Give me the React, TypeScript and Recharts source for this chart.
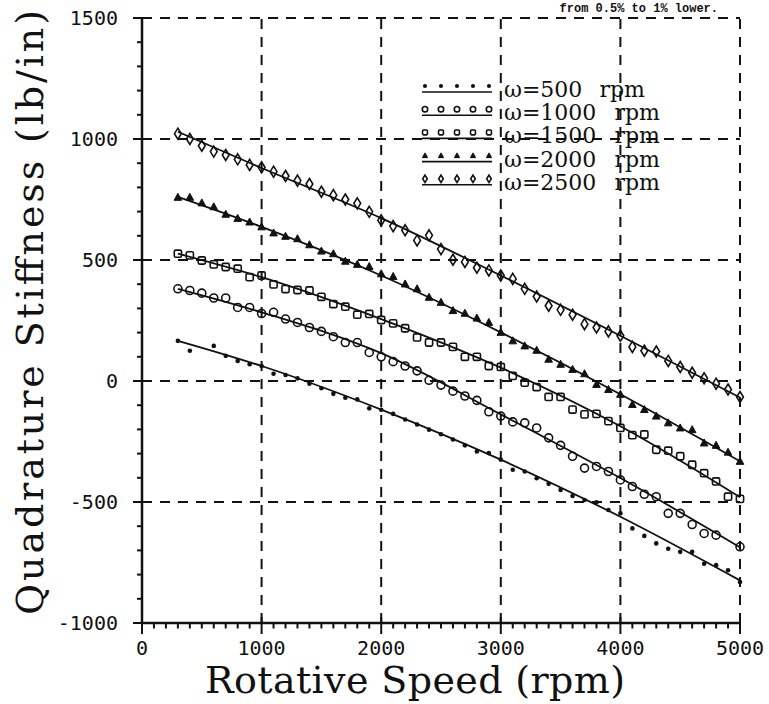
import React from 'react';
import { ComposedChart, Scatter, Line, XAxis, YAxis, ReferenceLine, Legend } from 'recharts';

// rotative speed of each measured point (rpm)
const rpm = [
  300, 400, 500, 600, 700, 800, 900, 1000, 1100, 1200, 1300, 1400, 1500, 1600, 1700, 1800,
  1900, 2000, 2100, 2200, 2300, 2400, 2500, 2600, 2700, 2800, 2900, 3000, 3100, 3200, 3300,
  3400, 3500, 3600, 3700, 3800, 3900, 4000, 4100, 4200, 4300, 4400, 4500, 4600, 4700, 4800,
  4900, 5000,
];
const rpmDots = rpm.filter((r) => r !== 500);
const rpmCircles = rpm.filter((r) => r !== 4900);

// measured quadrature stiffness (lb/in)
const w500 = [
  166, 125, 145, 104, 83, 69, 62, 30, 25, 11, -11, -30, -53, -69, -76, -113, -119, -136, -159,
  -180, -201, -220, -242, -266, -291, -298, -325, -367, -374, -402, -425, -450, -475, -492, -501,
  -533, -547, -609, -640, -671, -693, -706, -706, -755, -761, -782, -831,
];
const w1000 = [
  381, 374, 363, 343, 343, 304, 304, 279, 284, 256, 242, 221, 205, 183, 159, 159, 118, 100, 80,
  62, 42, 3, -17, -42, -62, -80, -127, -145, -169, -173, -194, -235, -266, -311, -360, -353, -374,
  -409, -436, -468, -478, -547, -547, -593, -630, -637, -685,
];
const w1500 = [
  526, 519, 498, 482, 471, 464, 429, 436, 399, 380, 376, 374, 348, 318, 307, 274, 277, 252, 238,
  218, 180, 159, 159, 141, 100, 100, 62, 58, 21, -7, -25, -66, -66, -118, -138, -136, -166, -194,
  -224, -221, -284, -288, -311, -346, -381, -415, -478, -487,
];
const w2000 = [
  759, 759, 736, 720, 689, 672, 657, 637, 612, 598, 588, 563, 537, 526, 495, 482, 473, 443, 432,
  401, 381, 346, 325, 291, 280, 260, 242, 201, 166, 145, 127, 90, 69, 48, 30, -14, -35, -55, -97,
  -118, -145, -173, -194, -201, -256, -266, -294, -332,
];
const w2500 = [
  1022, 1000, 972, 948, 934, 916, 893, 883, 865, 847, 828, 814, 782, 768, 750, 734, 699, 664, 640,
  623, 581, 602, 545, 501, 492, 468, 457, 436, 422, 381, 349, 311, 294, 274, 235, 221, 205, 187,
  141, 125, 122, 83, 58, 34, 11, -11, -35, -66,
];

// fitted curves
const fitRpm = [300, 1000, 2000, 3000, 4000, 5000];
const fit500 = [166, 62, -118, -325, -561, -824];
const fit1000 = [381, 284, 115, -138, -401, -687];
const fit1500 = [526, 429, 256, 55, -187, -480];
const fit2000 = [761, 637, 436, 201, -55, -332];
const fit2500 = [1030, 880, 673, 436, 187, -68];

const xMajor = [0, 1000, 2000, 3000, 4000, 5000];
const yMajor = [-1000, -500, 0, 500, 1000, 1500];
const xTicks = Array.from({ length: 51 }, (_, i) => i * 100);
const yTicks = Array.from({ length: 26 }, (_, i) => -1000 + i * 100);

const toPts = (xs: number[], ys: number[]) => xs.map((x, i) => ({ x, y: ys[i] }));

const series = [
  { key: 'w500', label: 'ω=500', xs: rpmDots, ys: w500, fit: fit500, kind: 'dot', gap: 17 },
  { key: 'w1000', label: 'ω=1000', xs: rpmCircles, ys: w1000, fit: fit1000, kind: 'circle', gap: 18 },
  { key: 'w1500', label: 'ω=1500', xs: rpm, ys: w1500, fit: fit1500, kind: 'square', gap: 18 },
  { key: 'w2000', label: 'ω=2000', xs: rpm, ys: w2000, fit: fit2000, kind: 'triangle', gap: 18 },
  { key: 'w2500', label: 'ω=2500', xs: rpm, ys: w2500, fit: fit2500, kind: 'diamond', gap: 18 },
];

const INK = '#111';
const MONO = "'DejaVu Sans Mono', monospace";
const SERIF = "'DejaVu Serif', serif";

const Marker = ({ kind, cx, cy, s = 1 }: { kind: string; cx: number; cy: number; s?: number }) => {
  if (cx == null || cy == null) return null;
  switch (kind) {
    case 'dot':
      return <circle cx={cx} cy={cy} r={2.3 * Math.max(s, 0.9)} fill={INK} />;
    case 'circle':
      return <circle cx={cx} cy={cy} r={4 * s} fill="none" stroke={INK} strokeWidth={1.6} />;
    case 'square':
      return (
        <rect x={cx - 3.6 * s} y={cy - 3.6 * s} width={7.2 * s} height={7.2 * s} rx={1.5 * s}
          fill="none" stroke={INK} strokeWidth={1.6} />
      );
    case 'triangle':
      return (
        <path d={`M${cx},${cy - 4 * s} L${cx + 3.8 * s},${cy + 3 * s} L${cx - 3.8 * s},${cy + 3 * s} Z`}
          fill={INK} stroke={INK} strokeWidth={1} />
      );
    default:
      return (
        <path d={`M${cx},${cy - 5.5 * s} L${cx + 3.4 * s},${cy} L${cx},${cy + 5.5 * s} L${cx - 3.4 * s},${cy} Z`}
          fill="none" stroke={INK} strokeWidth={1.6} />
      );
  }
};

const YTick = (props: any) => {
  const { y, payload } = props;
  const v = payload.value;
  const major = v % 500 === 0;
  return (
    <g>
      <line x1={major ? 133 : 137} x2={major ? 148 : 142} y1={y} y2={y} stroke={INK} strokeWidth={2} />
      {major && (
        <text x={118} y={y} dy="0.36em" textAnchor="end" fontFamily={MONO} fontSize={20} fill={INK}>
          {v}
        </text>
      )}
    </g>
  );
};

const XTick = (props: any) => {
  const { x, payload } = props;
  const v = payload.value;
  const major = v % 1000 === 0;
  return (
    <g>
      <line x1={x} x2={x} y1={major ? 617 : 623} y2={major ? 634 : 628.5} stroke={INK} strokeWidth={2} />
      {major && (
        <text x={x} y={655} textAnchor="middle" fontFamily={MONO} fontSize={20} fill={INK}>
          {v}
        </text>
      )}
    </g>
  );
};

const XLabel = (props: any) => (
  <text x={205} y={693} fontFamily={SERIF} fontSize={38} fill={INK} textLength={420} lengthAdjust="spacing">
    {props.value}
  </text>
);

const YLabel = (props: any) => (
  <text
    transform="translate(43, 615) rotate(-90)"
    x={0}
    y={0}
    fontFamily={SERIF}
    fontSize={38}
    fill={INK}
    textLength={605}
    lengthAdjust="spacing"
  >
    {props.value}
  </text>
);

const LegendOverlay = () => (
  <svg width={769} height={704} style={{ display: 'block' }}>
    <text x={718} y={12} textAnchor="end" fontFamily="'Liberation Mono', monospace" fontWeight="bold" fontSize={12} fill={INK}>
      from 0.5% to 1% lower.
    </text>
    {series.map((s, i) => {
      const cy = 86 + i * 23.2;
      return (
        <g key={s.key}>
          {[425, 441, 457, 473, 489].map((mx) => (
            <Marker key={mx} kind={s.kind} cx={mx} cy={cy} s={0.68} />
          ))}
          <line x1={422} x2={492} y1={cy + 6} y2={cy + 6} stroke={INK} strokeWidth={1.6} />
          <text x={504} y={cy + 11} fontFamily={SERIF} fontSize={22} fill={INK}>
            {s.label}
            <tspan dx={s.gap}>rpm</tspan>
          </text>
        </g>
      );
    })}
  </svg>
);

export default function App() {
  return (
    <div style={{ width: 769, height: 704, background: '#fff' }}>
      <style>{'body{margin:0}'}</style>
      <ComposedChart width={769} height={704} margin={{ top: 18, right: 29, left: 0, bottom: 0 }}>
        <XAxis
          type="number"
          dataKey="x"
          domain={[0, 5000]}
          ticks={xTicks}
          interval={0}
          tick={<XTick />}
          tickLine={false}
          tickSize={0}
          height={81}
          axisLine={{ stroke: INK, strokeWidth: 2.5 }}
          label={{ value: 'Rotative Speed (rpm)', content: <XLabel /> }}
        />
        <YAxis
          type="number"
          dataKey="y"
          domain={[-1000, 1500]}
          ticks={yTicks}
          interval={0}
          tick={<YTick />}
          tickLine={false}
          tickSize={0}
          width={142}
          axisLine={{ stroke: INK, strokeWidth: 2.5 }}
          label={{ value: 'Quadrature Stiffness (lb/in)', content: <YLabel /> }}
        />
        {xMajor.slice(1).map((v) => (
          <ReferenceLine key={`x${v}`} x={v} stroke={INK} strokeWidth={2} strokeDasharray="10 8" />
        ))}
        {yMajor.slice(1).map((v) => (
          <ReferenceLine key={`y${v}`} y={v} stroke={INK} strokeWidth={2} strokeDasharray="10 8" />
        ))}
        {series.map((s) => (
          <Line
            key={`fit-${s.key}`}
            data={toPts(fitRpm, s.fit)}
            dataKey="y"
            type="monotone"
            stroke={INK}
            strokeWidth={1.8}
            dot={false}
            activeDot={false}
            isAnimationActive={false}
            legendType="none"
          />
        ))}
        {series.map((s) => (
          <Scatter
            key={s.key}
            name={s.label}
            data={toPts(s.xs, s.ys)}
            dataKey="y"
            isAnimationActive={false}
            shape={(p: any) => <Marker kind={s.kind} cx={p.cx} cy={p.cy} />}
          />
        ))}
        <Legend
          layout="vertical"
          align="center"
          verticalAlign="middle"
          content={() => <LegendOverlay />}
          wrapperStyle={{ position: 'absolute', left: 0, top: 0, width: 769, height: 704, pointerEvents: 'none' }}
        />
      </ComposedChart>
    </div>
  );
}
